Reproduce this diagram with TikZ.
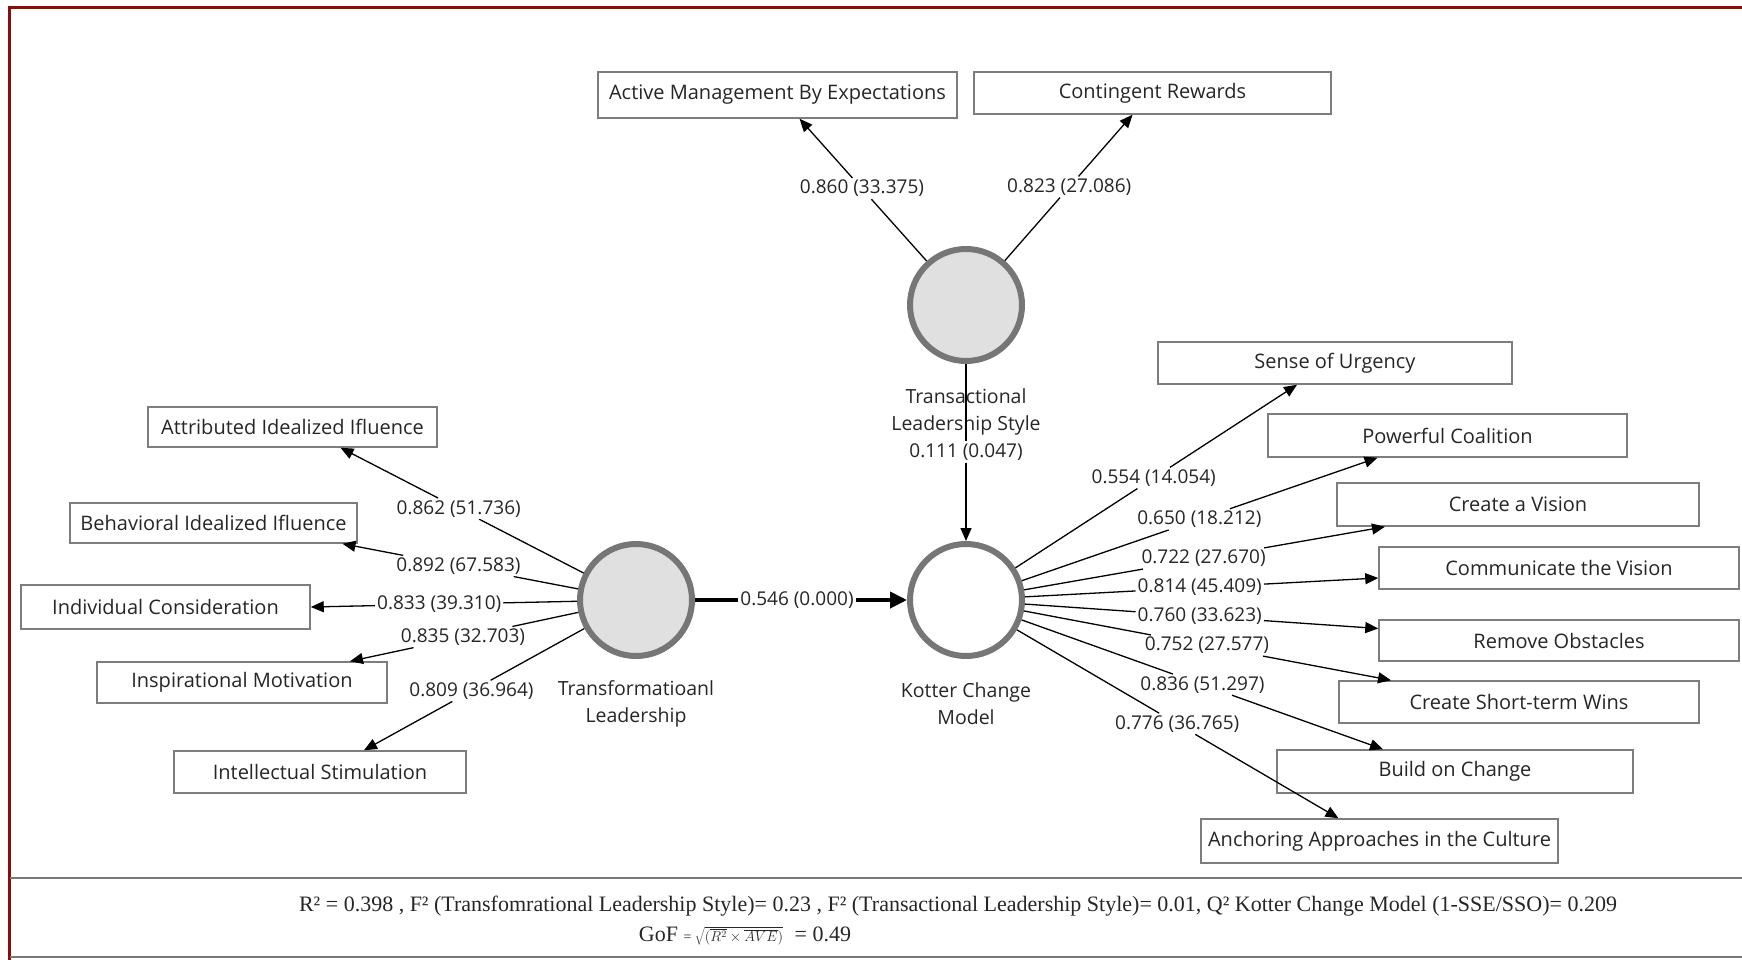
\documentclass[tikz,border=0pt]{standalone}
\usepackage{fontspec}
\setmainfont{Open Sans}
\newfontfamily\serifbody{Liberation Serif}
\usetikzlibrary{arrows.meta,calc}

\definecolor{frameRed}{RGB}{140,12,12}
\definecolor{boxGray}{RGB}{125,125,125}
\definecolor{ringGray}{RGB}{118,118,118}
\definecolor{lvFill}{RGB}{224,224,224}
\definecolor{ink}{RGB}{38,38,38}
\definecolor{ruleGray}{RGB}{120,120,120}

\begin{document}
\begin{tikzpicture}[x=1pt,y=-1pt,
  indbox/.style={draw=boxGray,line width=1.5pt,fill=white,inner sep=0pt,
    text=ink,font=\fontsize{20}{23}\selectfont},
  latent/.style={circle,draw=ringGray,line width=6pt,minimum size=112pt,
    inner sep=0pt},
  lvname/.style={align=center,text=ink,font=\fontsize{19.5}{27}\selectfont},
  wlab/.style={fill=white,inner sep=2pt,text=ink,
    font=\fontsize{19}{21}\selectfont},
  plainln/.style={line width=1.3pt},
  load/.style={line width=1.3pt,-{Triangle[length=13pt,width=11pt]}},
  pathln/.style={line width=4pt},
  patharr/.style={line width=4pt,-{Triangle[length=17pt,width=16pt]}},
  statline/.style={text=ink,font=\serifbody\fontsize{22}{24}\selectfont},
]
\useasboundingbox (0,0) rectangle (1742,960);

% outer frame and the rules around the statistics strip
\draw[frameRed,line width=3pt] (9,960) -- (9,8) -- (1742,8);
\draw[ruleGray,line width=2pt] (10,878) -- (1742,878);
\draw[ruleGray,line width=2pt] (10,957) -- (1742,957);

% latent variables
\node[latent,fill=lvFill] (TL) at (636,600) {};
\node[latent,fill=white]  (KC) at (966,600) {};
\node[latent,fill=lvFill] (TS) at (966,305) {};

\node[lvname] (TLname) at (636,703.5) {Transformatioanl\\Leadership};
\node[lvname] (KCname) at (966,703.5) {Kotter Change\\Model};
\node[lvname] (TSname) at (966,411.5) {Transactional\\Leadership Style};

% indicators of transformational leadership
\node[indbox,minimum width=289pt,minimum height=40pt] (AII) at (292.5,427) {Attributed Idealized Ifluence};
\node[indbox,minimum width=287pt,minimum height=40pt] (BII) at (213.5,523) {Behavioral Idealized Ifluence};
\node[indbox,minimum width=289pt,minimum height=44pt] (IC)  at (165.5,607) {Individual Consideration};
\node[indbox,minimum width=290pt,minimum height=41pt] (IM)  at (242,682.5) {Inspirational Motivation};
\node[indbox,minimum width=292pt,minimum height=42pt] (IS)  at (320,772) {Intellectual Stimulation};

% indicators of transactional leadership
\node[indbox,minimum width=359pt,minimum height=46pt] (AM) at (777.5,95) {Active Management By Expectations};
\node[indbox,minimum width=357pt,minimum height=42pt] (CR) at (1152.5,93) {Contingent Rewards};

% indicators of the Kotter change model
\node[indbox,minimum width=354pt,minimum height=42pt] (SU)  at (1335,363) {Sense of Urgency};
\node[indbox,minimum width=359pt,minimum height=43pt] (PC)  at (1447.5,435.5) {Powerful Coalition};
\node[indbox,minimum width=362pt,minimum height=43pt] (CV)  at (1518,504.5) {Create a Vision};
\node[indbox,minimum width=360pt,minimum height=42pt] (CoV) at (1559,568) {Communicate the Vision};
\node[indbox,minimum width=360pt,minimum height=41pt] (RO)  at (1559,640.5) {Remove Obstacles};
\node[indbox,minimum width=360pt,minimum height=42pt] (STW) at (1519,702) {Create Short-term Wins};
\node[indbox,minimum width=356pt,minimum height=43pt] (BoC) at (1455,771.5) {Build on Change};
\node[indbox,minimum width=357pt,minimum height=44pt] (AA)  at (1379.5,841) {Anchoring Approaches in the Culture};

% arrow tips on the indicator boxes
\coordinate (tAII) at ([xshift=48pt]AII.south);
\coordinate (tBII) at ([xshift=129pt]BII.south);
\coordinate (tIC)  at (IC.east);
\coordinate (tIM)  at ([xshift=108pt]IM.north);
\coordinate (tIS)  at ([xshift=44pt]IS.north);
\coordinate (tAM)  at ([xshift=22pt]AM.south);
\coordinate (tCR)  at ([xshift=-20pt]CR.south);
\coordinate (tSU)  at ([xshift=-38pt]SU.south);
\coordinate (tPC)  at ([xshift=-70pt]PC.south);
\coordinate (tCV)  at ([xshift=-133pt]CV.south);
\coordinate (tCoV) at ([yshift=-10pt]CoV.west);
\coordinate (tRO)  at ([yshift=12pt]RO.west);
\coordinate (tSTW) at ([xshift=-128pt]STW.north);
\coordinate (tBoC) at ([xshift=-72pt]BoC.north);
\coordinate (tAA)  at ([xshift=-41pt]AA.north);

% outer loadings: line from the construct to its weight, arrow on to the indicator
\foreach \src/\tgt/\t/\val in {
    TL/tAII/0.6/{0.862 (51.736)},
    TL/tBII/0.605/{0.892 (67.583)},
    TL/tIC/0.605/{0.833 (39.310)},
    TL/tIM/0.605/{0.835 (32.703)},
    TL/tIS/0.605/{0.809 (36.964)},
    TS/tAM/0.625/{0.860 (33.375)},
    TS/tCR/0.62/{0.823 (27.086)},
    KC/tSU/0.567/{0.554 (14.054)},
    KC/tPC/0.567/{0.650 (18.212)},
    KC/tCV/0.567/{0.722 (27.670)},
    KC/tCoV/0.567/{0.814 (45.409)},
    KC/tRO/0.567/{0.760 (33.623)},
    KC/tSTW/0.567/{0.752 (27.577)},
    KC/tBoC/0.567/{0.836 (51.297)},
    KC/tAA/0.567/{0.776 (36.765)}}{
  \node[wlab] (w\tgt) at ($(\src)!\t!(\tgt)$) {\val};
  \draw[plainln] (\src) -- (w\tgt);
  \draw[load] (w\tgt) -- (\tgt);
}

% structural paths
\node[wlab] (pTL) at (797,600) {0.546 (0.000)};
\draw[pathln] (TL) -- (pTL);
\draw[patharr] (pTL) -- (KC);

\node[wlab] (pTS) at (966,452) {0.111 (0.047)};
\draw[plainln] (TS) -- (pTS);
\draw[load] (pTS) -- (KC);

% model quality statistics
\node[statline] (stats) at (958,906) {R² = 0.398 , F² (Transfomrational Leadership Style)= 0.23 , F² (Transactional Leadership Style)= 0.01, Q² Kotter Change Model (1-SSE/SSO)= 0.209};
\node[statline] (gof) at (745,936) {GoF {\fontsize{14}{15}\selectfont = $\sqrt{(\overline{R^2}\times\overline{AVE})}$}\; = 0.49};
\end{tikzpicture}
\end{document}
